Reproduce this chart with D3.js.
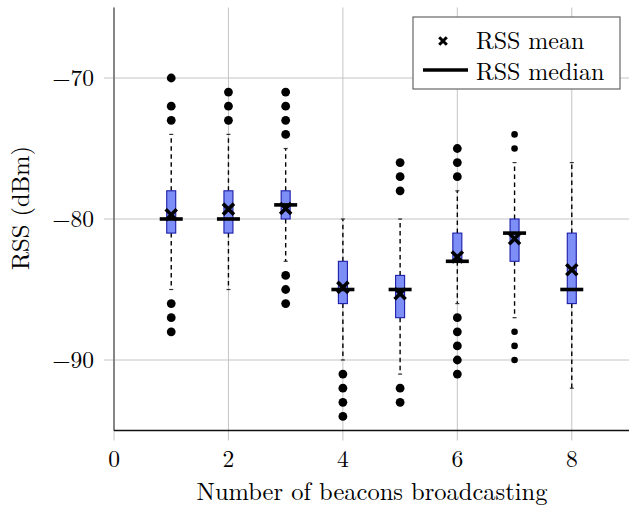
<!DOCTYPE html>
<html>
<head>
<meta charset="utf-8">
<script src="https://cdn.jsdelivr.net/npm/d3@7"></script>
<style>
  body { margin: 0; background: #fff; }
</style>
</head>
<body>
<div id="chart"></div>
<script>
// data
var beacons = [1, 2, 3, 4, 5, 6, 7, 8]
var q1 = [-81, -81, -80, -86, -87, -83, -83, -86]
var q3 = [-78, -78, -78, -83, -84, -81, -80, -81]
var medians = [-80, -80, -79, -85, -85, -83, -81, -85]
var means = [-79.7, -79.3, -79.25, -84.85, -85.3, -82.7, -81.4, -83.6]
var whiskerLow = [-85, -85, -83, -90, -91, -86, -87, -92]
var whiskerHigh = [-74, -74, -75, -80, -80, -78, -76, -76]
var outliers = [
  [-70, -72, -73, -86, -87, -88],
  [-71, -72, -73],
  [-71, -72, -73, -74, -84, -85, -86],
  [-91, -92, -93, -94],
  [-76, -77, -78, -92, -93],
  [-75, -76, -77, -87, -88, -89, -90, -91],
  [-74, -75, -88, -89, -90],
  []
]
var xTicks = [0, 2, 4, 6, 8]
var yTicks = [-70, -80, -90]

var width = 629
var height = 506
var serif = "Latin Modern Roman"

var svg = d3.select("#chart")
    .append("svg")
    .attr("width", width)
    .attr("height", height)
    .attr("font-family", serif)

var x = d3.scaleLinear().domain([0, 9]).range([114, 629])
var y = d3.scaleLinear().domain([-95, -65]).range([430.5, 7.5])

var fmt = function(d) { return d < 0 ? "\u2212" + Math.abs(d) : d }

// grid
svg.append("g").selectAll("line").data(xTicks).enter().append("line")
    .attr("x1", function(d) { return x(d) }).attr("x2", function(d) { return x(d) })
    .attr("y1", y(-65)).attr("y2", y(-95) + 10)
    .style("stroke", "#c4c4c4").style("stroke-width", 1)
svg.append("g").selectAll("line").data(yTicks).enter().append("line")
    .attr("x1", x(0) - 10).attr("x2", width)
    .attr("y1", function(d) { return y(d) }).attr("y2", function(d) { return y(d) })
    .style("stroke", "#c4c4c4").style("stroke-width", 1)

// axes lines
svg.append("line").attr("x1", x(0)).attr("x2", x(0)).attr("y1", y(-65)).attr("y2", y(-95))
    .style("stroke", "#555").style("stroke-width", 1.3)
svg.append("line").attr("x1", x(0)).attr("x2", width).attr("y1", y(-95)).attr("y2", y(-95))
    .style("stroke", "#111").style("stroke-width", 1.3)

// tick labels
svg.append("g").selectAll("text").data(xTicks).enter().append("text")
    .attr("x", function(d) { return x(d) }).attr("y", 467)
    .attr("font-family", serif)
    .attr("text-anchor", "middle").attr("font-size", 23.5)
    .text(fmt)
svg.append("g").selectAll("text").data(yTicks).enter().append("text")
    .attr("x", 94).attr("y", function(d) { return y(d) + 8 })
    .attr("font-family", serif)
    .attr("text-anchor", "end").attr("font-size", 23.5)
    .text(fmt)

// axis titles
svg.append("text").attr("x", 372).attr("y", 500).attr("text-anchor", "middle")
    .attr("font-family", serif).attr("font-size", 24.5).text("Number of beacons broadcasting")
svg.append("text").attr("transform", "translate(29,208) rotate(-90)").attr("text-anchor", "middle")
    .attr("font-family", serif).attr("font-size", 24.5).text("RSS (dBm)")

// boxes
var g = svg.append("g")
var idx = d3.range(beacons.length)
var boxW = 9

// whiskers (dashed)
g.selectAll(".wlow").data(idx).enter().append("line")
    .attr("x1", function(i) { return x(beacons[i]) }).attr("x2", function(i) { return x(beacons[i]) })
    .attr("y1", function(i) { return y(q1[i]) }).attr("y2", function(i) { return y(whiskerLow[i]) })
    .style("stroke", "#000").style("stroke-width", 1.4).style("stroke-dasharray", "4.5,3.5")
g.selectAll(".whigh").data(idx).enter().append("line")
    .attr("x1", function(i) { return x(beacons[i]) }).attr("x2", function(i) { return x(beacons[i]) })
    .attr("y1", function(i) { return y(q3[i]) }).attr("y2", function(i) { return y(whiskerHigh[i]) })
    .style("stroke", "#000").style("stroke-width", 1.4).style("stroke-dasharray", "4.5,3.5")
// whisker caps
g.selectAll(".caplow").data(idx).enter().append("line")
    .attr("x1", function(i) { return x(beacons[i]) - 2 }).attr("x2", function(i) { return x(beacons[i]) + 2 })
    .attr("y1", function(i) { return y(whiskerLow[i]) }).attr("y2", function(i) { return y(whiskerLow[i]) })
    .style("stroke", "#333").style("stroke-width", 1.2)
g.selectAll(".caphigh").data(idx).enter().append("line")
    .attr("x1", function(i) { return x(beacons[i]) - 2 }).attr("x2", function(i) { return x(beacons[i]) + 2 })
    .attr("y1", function(i) { return y(whiskerHigh[i]) }).attr("y2", function(i) { return y(whiskerHigh[i]) })
    .style("stroke", "#333").style("stroke-width", 1.2)

g.selectAll("rect").data(idx).enter().append("rect")
    .attr("x", function(i) { return x(beacons[i]) - boxW / 2 })
    .attr("width", boxW)
    .attr("y", function(i) { return y(q3[i]) })
    .attr("height", function(i) { return y(q1[i]) - y(q3[i]) })
    .style("fill", "#7d8ff7")
    .style("stroke", "#1c1ca8").style("stroke-width", 1.1)

// outliers
var outR = function(i) { return beacons[i] === 7 ? 3.3 : 4.4 }
idx.forEach(function(i) {
    g.selectAll(".out" + i).data(outliers[i]).enter().append("circle")
        .attr("cx", x(beacons[i]))
        .attr("cy", function(d) { return y(d) })
        .attr("r", outR(i))
        .style("fill", "#000")
})

// medians
g.selectAll(".median").data(idx).enter().append("line")
    .attr("x1", function(i) { return x(beacons[i]) - 11.5 }).attr("x2", function(i) { return x(beacons[i]) + 11.5 })
    .attr("y1", function(i) { return y(medians[i]) }).attr("y2", function(i) { return y(medians[i]) })
    .style("stroke", "#000").style("stroke-width", 3.6)

// means (bold cross)
var cross = function(cx, cy, s) {
    return "M" + (cx - s) + "," + (cy - s) + "L" + (cx + s) + "," + (cy + s) +
        "M" + (cx - s) + "," + (cy + s) + "L" + (cx + s) + "," + (cy - s)
}
g.selectAll(".mean").data(idx).enter().append("path")
    .attr("d", function(i) { return cross(x(beacons[i]), y(means[i]), 5.5) })
    .style("stroke", "#000").style("stroke-width", 3.6).style("fill", "none")

// legend
var lg = svg.append("g")
lg.append("rect").attr("x", 413).attr("y", 17).attr("width", 207).attr("height", 72)
    .style("fill", "#fff").style("stroke", "#666").style("stroke-width", 1.2)
lg.append("path").attr("d", cross(443, 41, 3.8))
    .style("stroke", "#000").style("stroke-width", 3).style("fill", "none")
lg.append("line").attr("x1", 423).attr("x2", 468).attr("y1", 70).attr("y2", 70)
    .style("stroke", "#000").style("stroke-width", 3.4)
lg.append("text").attr("x", 476).attr("y", 49).attr("font-family", serif).attr("font-size", 24).text("RSS mean")
lg.append("text").attr("x", 476).attr("y", 80).attr("font-family", serif).attr("font-size", 24).text("RSS median")
</script>
</body>
</html>
